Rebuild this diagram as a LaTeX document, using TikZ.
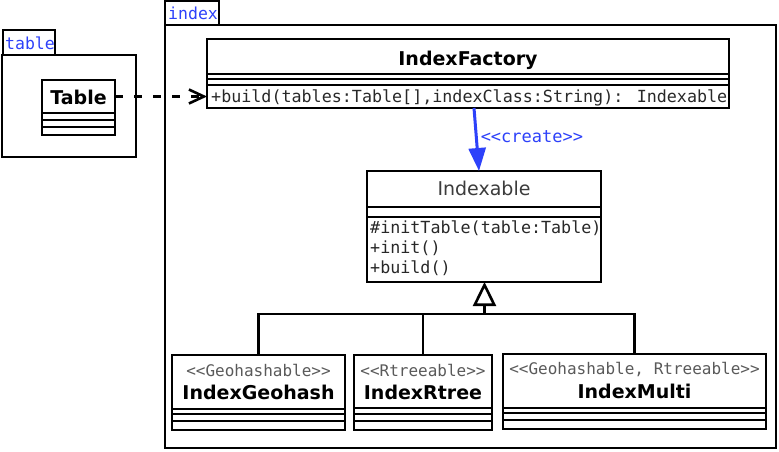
\documentclass[tikz,border=0pt]{standalone}
\usepackage{fontspec}
\setmainfont{DejaVu Sans}
\newfontfamily\umlmono{DejaVu Sans Mono}
\usetikzlibrary{arrows.meta,calc}
\definecolor{umlblue}{RGB}{45,65,250}
\definecolor{opgray}{RGB}{40,40,40}
\definecolor{stgray}{RGB}{90,90,90}
\definecolor{absgray}{RGB}{60,60,60}
\begin{document}
\begin{tikzpicture}[x=1pt,y=-1pt,
  comp/.style={draw, line width=2.7pt, inner sep=0pt, outer sep=0pt, anchor=north west, fill=white},
  pkgbox/.style={draw, line width=2.7pt, inner sep=0pt, outer sep=0pt, anchor=north west},
  pkglabel/.style={font=\umlmono\fontsize{16.5}{18}\selectfont, text=umlblue, anchor=base west, inner sep=0pt},
  cname/.style={font=\fontsize{19}{22}\selectfont\bfseries, anchor=base, inner sep=0pt},
  aname/.style={font=\fontsize{19}{22}\selectfont, text=absgray, anchor=base, inner sep=0pt},
  optext/.style={font=\umlmono\fontsize{16.7}{20}\selectfont, text=opgray, anchor=base west, inner sep=0pt},
  stereo/.style={font=\umlmono\fontsize{16}{18}\selectfont, text=stgray, anchor=base, inner sep=0pt},
  dep/.style={line width=2.6pt, dash pattern=on 8pt off 11pt, -{Straight Barb[length=15pt,width=14pt,line width=2.6pt]}},
  create/.style={line width=3pt, umlblue, -{Triangle[length=23pt,width=17pt]}},
  genline/.style={line width=2.6pt},
  gen/.style={line width=2.6pt, -{Triangle[open,length=24pt,width=23pt,line width=2.6pt]}}
]
\useasboundingbox (0,0) rectangle (779,451);
\fill[white] (0,0) rectangle (779,451);

% package table
\node[pkgbox, minimum width=52pt, minimum height=25pt] (tabtab) at (3,30) {};
\node[pkgbox, minimum width=134pt, minimum height=102pt] (tabpkg) at (2,55) {};
\node[pkglabel] (tablbl) at (5,49) {table};

% package index
\node[pkgbox, minimum width=54pt, minimum height=24pt] (idxtab) at (165,1) {};
\node[pkgbox, minimum width=611pt, minimum height=423pt] (idxpkg) at (165,25) {};
\node[pkglabel] (idxlbl) at (168,19) {index};

% class Table
\node[comp, minimum width=73pt, minimum height=33pt] (tblname) at (42,80) {};
\node[comp, minimum width=73pt, minimum height=7pt] (tblsep) at (tblname.south west) {};
\node[comp, minimum width=73pt, minimum height=7pt] (tblattr) at (tblsep.south west) {};
\node[comp, minimum width=73pt, minimum height=8pt] (tblops) at (tblattr.south west) {};
\node[cname] (tbltxt) at (78.5,104) {Table};

% class IndexFactory
\node[comp, minimum width=522pt, minimum height=35pt] (facname) at (207,39) {};
\node[comp, minimum width=522pt, minimum height=5pt] (facsep) at (facname.south west) {};
\node[comp, minimum width=522pt, minimum height=6pt] (facattr) at (facsep.south west) {};
\node[comp, minimum width=522pt, minimum height=23pt] (facops) at (facattr.south west) {};
\node[cname] (factxt) at (468,65) {IndexFactory};
\node[optext] (facop1) at (211,102) {+build(tables:Table[],indexClass:String): Indexable};

% class Indexable
\node[comp, minimum width=234pt, minimum height=36pt] (ixname) at (367,171) {};
\node[comp, minimum width=234pt, minimum height=10pt] (ixattr) at (ixname.south west) {};
\node[comp, minimum width=234pt, minimum height=65pt] (ixops) at (ixattr.south west) {};
\node[aname] (ixtxt) at (484,195) {Indexable};
\node[optext] (ixop1) at (370,233) {\#initTable(table:Table)};
\node[optext] (ixop2) at (370,253) {+init()};
\node[optext] (ixop3) at (370,273) {+build()};

% class IndexGeohash
\node[comp, minimum width=173pt, minimum height=54pt] (geoname) at (172,355) {};
\node[comp, minimum width=173pt, minimum height=5pt] (geosep) at (geoname.south west) {};
\node[comp, minimum width=173pt, minimum height=7pt] (geoattr) at (geosep.south west) {};
\node[comp, minimum width=173pt, minimum height=9pt] (geoops) at (geoattr.south west) {};
\node[stereo] (geost) at (258.5,376) {<{}<Geohashable>{}>};
\node[cname] (geotxt) at (258.5,399) {IndexGeohash};

% class IndexRtree
\node[comp, minimum width=138pt, minimum height=53pt] (rtname) at (354,355) {};
\node[comp, minimum width=138pt, minimum height=6pt] (rtsep) at (rtname.south west) {};
\node[comp, minimum width=138pt, minimum height=7pt] (rtattr) at (rtsep.south west) {};
\node[comp, minimum width=138pt, minimum height=9pt] (rtops) at (rtattr.south west) {};
\node[stereo] (rtst) at (423,376) {<{}<Rtreeable>{}>};
\node[cname] (rttxt) at (423,399) {IndexRtree};

% class IndexMulti
\node[comp, minimum width=263pt, minimum height=54pt] (muname) at (503,354) {};
\node[comp, minimum width=263pt, minimum height=5pt] (musep) at (muname.south west) {};
\node[comp, minimum width=263pt, minimum height=7pt] (muattr) at (musep.south west) {};
\node[comp, minimum width=263pt, minimum height=9pt] (muops) at (muattr.south west) {};
\node[stereo] (must) at (634.5,374) {<{}<Geohashable, Rtreeable>{}>};
\node[cname] (mutxt) at (634.5,398) {IndexMulti};

% dependency Table -> IndexFactory
\draw[dep] (tblname.east) -- (facops.west);

% create
\draw[create] ([xshift=6pt]facops.south) -- ([xshift=-5pt]ixname.north)
  node[pos=0.45, right=3pt, font=\umlmono\fontsize{17}{19}\selectfont, text=umlblue, inner sep=0pt] (crlbl) {<{}<create>{}>};

% generalization
\coordinate (gj) at (484.5,314);
\draw[genline] (geoname.north) |- (gj) -| (muname.north);
\draw[genline] (rtname.north) -- (rtname.north |- gj);
\draw[gen] (gj) -- (gj |- ixops.south);
\end{tikzpicture}
\end{document}
